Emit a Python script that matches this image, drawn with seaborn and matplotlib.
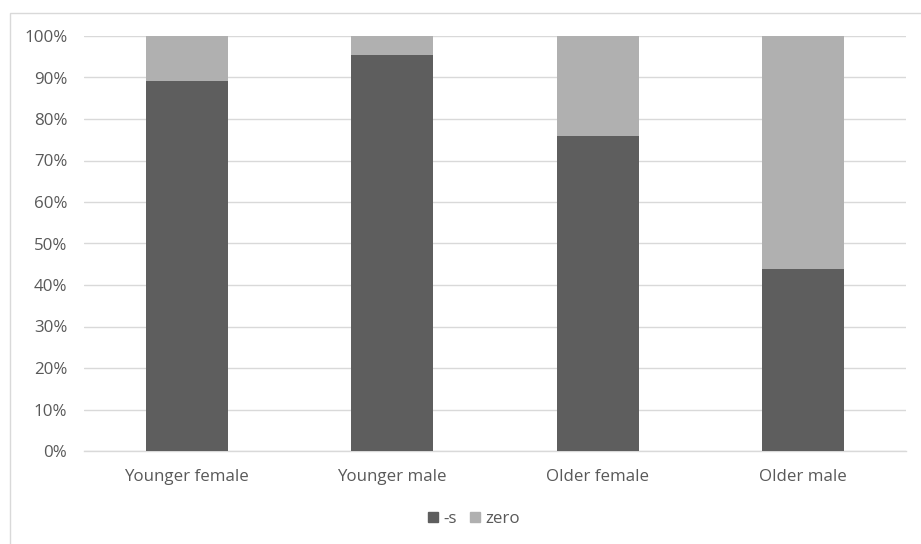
import matplotlib
matplotlib.use("Agg")
import matplotlib.pyplot as plt
from matplotlib.patches import Rectangle, Patch
from matplotlib.ticker import PercentFormatter
import seaborn as sns
import pandas as pd

categories = ["Younger female", "Younger male", "Older female", "Older male"]
s_share = [89.2, 95.4, 75.9, 43.9]
zero_share = [10.8, 4.6, 24.1, 56.1]
series_names = ["-s", "zero"]

dark = "#5e5e5e"
light = "#b0b0b0"
text_col = "#595959"
grid_col = "#d9d9d9"

sns.set_theme(style="white")
plt.rcParams["font.family"] = ["Open Sans", "DejaVu Sans"]

df = pd.DataFrame({"group": categories, "s": s_share, "zero": zero_share})
df["total"] = df["s"] + df["zero"]

fig = plt.figure(figsize=(9.21, 5.44), dpi=100)
ax = fig.add_axes([84 / 921, 1 - 451 / 544, (906 - 84) / 921, (451 - 36) / 544])

# chart-area frame
fig.patches.append(Rectangle((10 / 921, -0.1), 2.0, 1.1 - 13 / 544,
                             transform=fig.transFigure, fill=False,
                             edgecolor="#d9d9d9", linewidth=1.0, zorder=0))

sns.barplot(data=df, x="group", y="total", color=light, width=0.4,
            saturation=1, linewidth=0, ax=ax, zorder=3)
sns.barplot(data=df, x="group", y="s", color=dark, width=0.4,
            saturation=1, linewidth=0, ax=ax, zorder=3)

ax.set_ylim(0, 100)
ax.set_xlim(-0.5, 3.5)
ax.set_yticks(range(0, 101, 10))
ax.yaxis.set_major_formatter(PercentFormatter(decimals=0))
ax.grid(axis="y", color=grid_col, linewidth=1.0, zorder=0)
ax.set_axisbelow(True)
for side in ["top", "right", "left"]:
    ax.spines[side].set_visible(False)
ax.spines["bottom"].set_color(grid_col)
ax.spines["bottom"].set_linewidth(1.0)
ax.set_xlabel("")
ax.set_ylabel("")
ax.tick_params(axis="both", length=0, labelsize=12.2, colors=text_col)
ax.tick_params(axis="x", pad=13)
ax.tick_params(axis="y", pad=12)

handles = [Patch(color=dark), Patch(color=light)]
fig.legend(handles, series_names, loc="center", bbox_to_anchor=(474 / 921, 1 - 519 / 544),
           ncol=2, frameon=False, fontsize=12.2, labelcolor=text_col,
           handlelength=0.6, handleheight=0.6, handletextpad=0.3, columnspacing=0.8)

fig.savefig("out.png", dpi=100, facecolor="white")
